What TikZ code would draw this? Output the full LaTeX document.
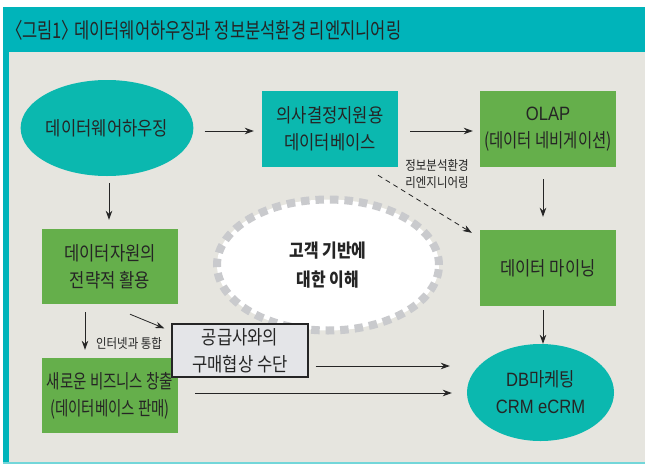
\documentclass[tikz,border=0pt]{standalone}
\usepackage{fontspec}
\usetikzlibrary{arrows.meta,shapes.geometric}
\newfontfamily\kr[FakeStretch=0.86,RawFeature=+palt]{Noto Sans CJK KR}
\newfontfamily\krn[FakeStretch=0.80,RawFeature=+palt]{Noto Sans CJK KR}
\newfontfamily\krnn[FakeStretch=0.75,RawFeature=+palt]{Noto Sans CJK KR}
\newfontfamily\krt[FakeStretch=0.77,RawFeature=+palt]{Noto Sans CJK KR}
\newfontfamily\lat[FakeStretch=0.86]{Liberation Sans}
\definecolor{titleteal}{HTML}{00B4BA}
\definecolor{tealnode}{HTML}{0BB8AF}
\definecolor{greennode}{HTML}{65AF4B}
\definecolor{bgc}{HTML}{E6E5DF}
\definecolor{ink}{HTML}{252525}
\definecolor{dashgray}{HTML}{C9CACD}
\definecolor{supfill}{HTML}{E4E5E8}
\begin{document}
\begin{tikzpicture}[x=1pt,y=-1pt,
  txt/.style={font=\kr\fontsize{19.3}{27}\selectfont, text=ink, align=center},
  small/.style={font=\kr\fontsize{13.3}{16.5}\selectfont, text=ink, align=center},
  tbox/.style={txt, rectangle, fill=tealnode, minimum width=136pt, minimum height=76pt, inner sep=0pt},
  gbox/.style={txt, rectangle, fill=greennode, minimum width=136pt, minimum height=76pt, inner sep=0pt},
  tell/.style={txt, ellipse, fill=tealnode, inner sep=0pt},
  arr/.style={draw=ink, line width=0.8pt, -{Stealth[length=9pt,width=6.5pt]}},
  darr/.style={arr, dash pattern=on 5pt off 4pt}
]
\useasboundingbox (0,0) rectangle (645,464);
\fill[white] (0,0) rectangle (645,464);
\fill[titleteal] (3,7) rectangle (645,52);
\fill[bgc] (3,52) rectangle (645,463);
\fill[titleteal] (3,52) rectangle (8.5,463);
\fill[titleteal!55] (3,461.5) rectangle (645,463.5);

\node[anchor=west, font=\krt\fontsize{21.5}{22}\selectfont, text=ink, inner sep=0pt] (title) at (14,30) {〈그림1〉 데이터웨어하우징과 정보분석환경 리엔지니어링};

% customer understanding ellipse
\node[ellipse, fill=white, draw=dashgray, line width=8pt, dash pattern=on 8.5pt off 6pt,
  minimum width=222pt, minimum height=131pt, inner sep=0pt,
  font=\kr\bfseries\fontsize{18.5}{29}\selectfont, text=ink, align=center] (cust) at (328,265) {고객 기반에\\대한 이해};

\node[tell, minimum width=148pt, minimum height=96pt] (dw) at (107,128) {데이터웨어하우징};
\node[tbox] (dss) at (330,129) {의사결정지원용\\데이터베이스};
\node[gbox] (olap) at (548,129) {{\lat OLAP}\\{\krn (데이터 네비게이션)}};
\node[gbox] (dm) at (548,268) {데이터 마이닝};
\node[tell, minimum width=147pt, minimum height=97pt] (crm) at (540.5,392.5) {{\lat DB}마케팅\\{\lat CRM eCRM}};
\node[gbox, minimum height=75pt] (res) at (110,266.5) {데이터자원의\\전략적 활용};
\node[gbox, minimum height=75pt, font=\krnn\fontsize{19.3}{27}\selectfont] (biz) at (110,395.5) {새로운 비즈니스 창출\\(데이터베이스 판매)};
\node[txt, rectangle, fill=supfill, draw=ink, line width=1.3pt, minimum width=136pt, minimum height=53pt, inner sep=0pt] (sup) at (240,350.5) {공급사와의\\구매협상 수단};

\node[small] (lbl1) at (437,174) {정보분석환경\\리엔지니어링};
\node[small, anchor=west, inner sep=0pt] (lbl2) at (96,343) {인터넷과 통합};

\draw[arr] ([shift={(11,3)}]dw.east) -- ([shift={(-8,2)}]dss.west);
\draw[arr] ([shift={(12,2)}]dss.east) -- ([shift={(-7,2)}]olap.west);
\draw[darr] ([shift={(48,8)}]dss.south) -- ([shift={(-8,3)}]dm.north west);
\draw[arr] ([shift={(-5,12)}]olap.south) -- ([shift={(-5,-13)}]dm.north);
\draw[arr] ([shift={(-5,4)}]dm.south) -- ([shift={(2.5,0)}]crm.north);
\draw[arr] ([shift={(2,7)}]dw.south) -- ([shift={(-1,-9)}]res.north);
\draw[arr] ([shift={(-25,8)}]res.south) -- ([shift={(-25,-8)}]biz.north);
\draw[arr] ([shift={(20,10)}]res.south) -- ([shift={(-7,5)}]sup.north west);
\draw[arr] ([shift={(7,15.5)}]sup.east) -- ([shift={(-17,-26.5)}]crm.west);
\draw[arr] ([shift={(17,-2.5)}]biz.east) -- ([shift={(-15,0.5)}]crm.west);
\end{tikzpicture}
\end{document}
